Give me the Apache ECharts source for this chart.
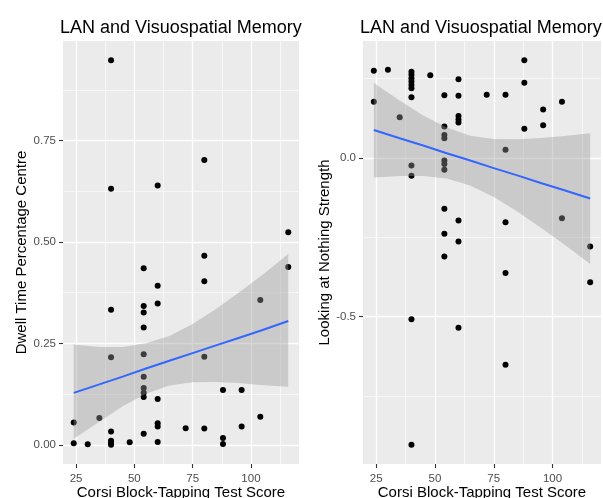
<!DOCTYPE html>
<html><head><meta charset="utf-8">
<script src="https://cdn.jsdelivr.net/npm/echarts@6/dist/echarts.min.js"></script>
<style>html,body{margin:0;padding:0;background:#fff}#c{width:603px;height:498px}</style>
</head><body><div id="c"></div>
<script>
// ---- Data ----
const titleText = 'LAN and Visuospatial Memory';
const xTitle = 'Corsi Block-Tapping Test Score';
const yTitleLeft = 'Dwell Time Percentage Centre';
const yTitleRight = 'Looking at Nothing Strength';

// Left panel: Corsi score vs dwell time percentage centre
const dwellScore = [24,24,30,35,40,40,40,40,40,40,40,40,48,54,54,54,54,54,54,54,54,54,54,60,60,60,60,60,60,60,72,80,80,80,80,80,88,88,88,96,96,104,104,116,116];
const dwellValue = [0.055,0.004,0.001,0.066,0.948,0.631,0.333,0.216,0.033,0.010,0.004,0.000,0.006,0.435,0.342,0.326,0.289,0.223,0.168,0.140,0.128,0.118,0.027,0.639,0.392,0.348,0.113,0.053,0.045,0.007,0.041,0.702,0.466,0.403,0.217,0.040,0.135,0.017,0.002,0.135,0.045,0.357,0.069,0.524,0.438];

// Right panel: Corsi score vs looking at nothing strength
const lanScore = [24,24,30,35,40,40,40,40,40,40,40,40,40,40,40,48,54,54,54,54,54,54,54,54,54,54,60,60,60,60,60,60,60,60,72,80,80,80,80,80,88,88,88,96,96,104,104,116,116];
const lanValue = [0.275,0.177,0.278,0.128,0.272,0.262,0.251,0.241,0.230,0.220,0.191,-0.024,-0.056,-0.508,-0.904,0.261,0.198,0.099,0.072,0.062,-0.008,-0.019,-0.037,-0.160,-0.239,-0.311,0.248,0.196,0.132,0.121,0.112,-0.197,-0.263,-0.535,0.199,0.199,0.026,-0.203,-0.363,-0.652,0.308,0.237,0.092,0.153,0.103,0.177,-0.190,-0.279,-0.392];

// Linear smooth (blue line) and its grey confidence band
const smoothX   = [24, 35, 45, 55, 65, 75, 85, 95, 105, 116];
const dwellFit  = [0.128, 0.149, 0.168, 0.188, 0.207, 0.226, 0.245, 0.264, 0.283, 0.305];
const dwellLow  = [0.015, 0.057, 0.095, 0.126, 0.146, 0.154, 0.155, 0.152, 0.147, 0.143];
const dwellHigh = [0.247, 0.241, 0.241, 0.250, 0.268, 0.298, 0.335, 0.376, 0.419, 0.470];
const lanFit    = [0.088, 0.062, 0.039, 0.015, -0.008, -0.032, -0.055, -0.079, -0.102, -0.128];
const lanLow    = [-0.062, -0.057, -0.057, -0.065, -0.087, -0.123, -0.169, -0.220, -0.273, -0.334];
const lanHigh   = [0.236, 0.181, 0.134, 0.096, 0.070, 0.060, 0.059, 0.063, 0.069, 0.078];

// Axis breaks
const xMajor = [25,50,75,100];
const xMinor = [37.5,62.5,87.5,112.5];
const dwellMajor = [0,0.25,0.5,0.75];
const dwellMinor = [0.125,0.375,0.625,0.875];
const lanMajor = [-0.5,0.0];
const lanMinor = [-0.75,-0.25,0.25];

function rangeOf(vals){
  const lo = Math.min(...vals), hi = Math.max(...vals), e = (hi-lo)*0.05;
  return [lo-e, hi+e];
}
const xRangeL = rangeOf(dwellScore), xRangeR = rangeOf(lanScore);
const yRangeL = rangeOf(dwellValue), yRangeR = rangeOf(lanValue);

const FONT = 'Liberation Sans, Arial, sans-serif';
const BG = '#EBEBEB';

function majorX(gridIndex, range){
  return {
    type:'value', gridIndex, position:'bottom', min:range[0], max:range[1],
    name:xTitle, nameLocation:'middle', nameGap:21, nameMoveOverlap:false,
    nameTextStyle:{fontSize:15, color:'#000', fontFamily:FONT, verticalAlign:'top'},
    axisLine:{show:false, onZero:false},
    axisTick:{show:true, length:4, lineStyle:{color:'#333', width:1.1}, customValues:xMajor},
    axisLabel:{show:true, customValues:xMajor, margin:9, fontSize:11.5, color:'#4D4D4D', fontFamily:FONT},
    splitLine:{show:true, lineStyle:{color:'#fff', width:1.3}},
    minorTick:{show:false}, minorSplitLine:{show:false}
  };
}
function minorX(gridIndex, range){
  return {
    type:'value', gridIndex, position:'top', min:range[0], max:range[1],
    axisLine:{show:false, onZero:false},
    axisTick:{show:false, customValues:xMinor},
    axisLabel:{show:false},
    splitLine:{show:true, lineStyle:{color:'#fff', width:0.6}}
  };
}
function majorY(gridIndex, range, ticks, digits, title, gap){
  return {
    type:'value', gridIndex, position:'left', min:range[0], max:range[1],
    name:title, nameLocation:'middle', nameGap:gap, nameRotate:90, nameMoveOverlap:false,
    nameTextStyle:{fontSize:15, color:'#000', fontFamily:FONT},
    axisLine:{show:false, onZero:false},
    axisTick:{show:true, length:4, lineStyle:{color:'#333', width:1.1}, customValues:ticks},
    axisLabel:{show:true, customValues:ticks, margin:7, fontSize:11.5, color:'#4D4D4D', fontFamily:FONT,
      formatter:(v)=>Number(v).toFixed(digits)},
    splitLine:{show:true, lineStyle:{color:'#fff', width:1.3}}
  };
}
function minorY(gridIndex, range, ticks){
  return {
    type:'value', gridIndex, position:'right', min:range[0], max:range[1],
    axisLine:{show:false, onZero:false},
    axisTick:{show:false, customValues:ticks},
    axisLabel:{show:false},
    splitLine:{show:true, lineStyle:{color:'#fff', width:0.6}}
  };
}
function bandSeries(xi, yi, xs, lo, hi){
  const rows = xs.map((x,i)=>[x, lo[i], hi[i]]);
  return {
    type:'custom', xAxisIndex:xi, yAxisIndex:yi, z:3, silent:true,
    data: rows,
    encode:{x:0, y:[1,2]},
    renderItem:(params, api)=>{
      if(params.dataIndex !== 0) return null;
      const pts = [];
      for(let i=0;i<rows.length;i++) pts.push(api.coord([rows[i][0], rows[i][2]]));
      for(let i=rows.length-1;i>=0;i--) pts.push(api.coord([rows[i][0], rows[i][1]]));
      return {type:'polygon', shape:{points:pts}, style:{fill:'rgba(153,153,153,0.4)'}};
    }
  };
}

const chart = echarts.init(document.getElementById('c'), null, {renderer:'canvas'});
const titleStyle = {fontSize:18, fontWeight:'normal', color:'#000', fontFamily:FONT};
chart.setOption({
  animation:false,
  backgroundColor:'#fff',
  title:[
    {text:titleText, left:60, top:19, padding:0, textStyle:titleStyle},
    {text:titleText, left:360, top:19, padding:0, textStyle:titleStyle}
  ],
  grid:[
    {left:63, top:41, width:236, height:423, show:true, backgroundColor:BG, borderWidth:0, containLabel:false, outerBoundsMode:'none'},
    {left:363, top:41, width:238, height:423, show:true, backgroundColor:BG, borderWidth:0, containLabel:false, outerBoundsMode:'none'}
  ],
  xAxis:[ majorX(0, xRangeL), minorX(0, xRangeL), majorX(1, xRangeR), minorX(1, xRangeR) ],
  yAxis:[
    majorY(0, yRangeL, dwellMajor, 2, yTitleLeft, 34), minorY(0, yRangeL, dwellMinor),
    majorY(1, yRangeR, lanMajor, 1, yTitleRight, 31), minorY(1, yRangeR, lanMinor)
  ],
  series:[
    {type:'scatter', xAxisIndex:0, yAxisIndex:0, z:2, symbolSize:6, itemStyle:{color:'#000', opacity:1},
      data: dwellScore.map((x,i)=>[x, dwellValue[i]])},
    bandSeries(0, 0, smoothX, dwellLow, dwellHigh),
    {type:'line', xAxisIndex:0, yAxisIndex:0, z:4, showSymbol:false, symbol:'none',
      lineStyle:{color:'#3366FF', width:2}, data: smoothX.map((x,i)=>[x, dwellFit[i]])},
    {type:'scatter', xAxisIndex:2, yAxisIndex:2, z:2, symbolSize:6, itemStyle:{color:'#000', opacity:1},
      data: lanScore.map((x,i)=>[x, lanValue[i]])},
    bandSeries(2, 2, smoothX, lanLow, lanHigh),
    {type:'line', xAxisIndex:2, yAxisIndex:2, z:4, showSymbol:false, symbol:'none',
      lineStyle:{color:'#3366FF', width:2}, data: smoothX.map((x,i)=>[x, lanFit[i]])}
  ]
});
</script>
</body></html>
